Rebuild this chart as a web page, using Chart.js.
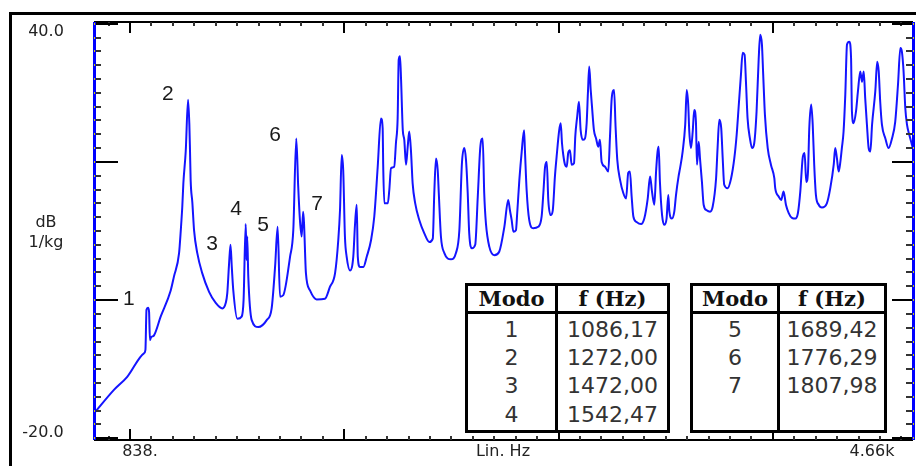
<!DOCTYPE html>
<html>
<head>
<meta charset="utf-8">
<script src="https://cdn.jsdelivr.net/npm/chart.js@4.4.0/dist/chart.umd.min.js"></script>
<style>
  html, body { margin: 0; padding: 0; background: #fff; }
  #wrap { position: relative; width: 916px; height: 466px; overflow: hidden; background: #fff; }
  #plot { position: absolute; left: 0; top: 0; }
  .modes {
    position: absolute; box-sizing: border-box; border: 3px solid #000; background: #fff;
    display: grid; grid-template-rows: 28px 30px 27.5px 27.5px 31px;
  }
  .modes div {
    box-sizing: border-box; display: flex; align-items: center; justify-content: center;
    font: 22px "DejaVu Sans", sans-serif; color: #333;
  }
  .modes div.head { font: bold 21px "DejaVu Serif", serif; color: #111; border-bottom: 3px solid #000; }
  .modes div.first { border-right: 3px solid #000; }
</style>
</head>
<body>
<div id="wrap">
  <canvas id="plot" width="916" height="466"></canvas>
  <div class="modes" id="tableA" style="left:465px; top:283px; width:205px; height:150px; grid-template-columns: 90px 1fr;"></div>
  <div class="modes" id="tableB" style="left:690px; top:283px; width:197px; height:150px; grid-template-columns: 87px 1fr;"></div>
</div>
<script>
// frequency response, Hz
const freqHz = [832, 925, 987, 1065, 1072, 1077, 1084, 1089, 1093, 1098, 1112, 1143, 1190, 1205, 1229, 1237, 1244, 1249, 1260, 1271,
  1277, 1280, 1283, 1291, 1299, 1314, 1337, 1369, 1400, 1431, 1447, 1454, 1462, 1469, 1475, 1482, 1501, 1521, 1530, 1540,
  1544, 1547, 1552, 1568, 1599, 1638, 1661, 1677, 1689, 1700, 1715, 1747, 1762, 1776, 1785, 1793, 1801, 1808, 1812, 1821,
  1840, 1871, 1910, 1933, 1957, 1972, 1980, 1988, 1995, 2003, 2011, 2027, 2042, 2050, 2058, 2063, 2073, 2089, 2105, 2125,
  2140, 2156, 2171, 2179, 2182, 2187, 2203, 2210, 2218, 2233, 2241, 2249, 2254, 2260, 2265, 2273, 2280, 2288, 2296, 2303,
  2311, 2319, 2331, 2350, 2373, 2397, 2413, 2420, 2428, 2436, 2441, 2451, 2467, 2498, 2521, 2537, 2549, 2560, 2568, 2576,
  2583, 2596, 2611, 2623, 2635, 2646, 2653, 2661, 2677, 2700, 2723, 2747, 2765, 2773, 2781, 2789, 2801, 2807, 2817, 2828,
  2839, 2843, 2851, 2863, 2882, 2905, 2921, 2929, 2937, 2945, 2952, 2963, 2973, 2983, 2991, 3003, 3010, 3016, 3022, 3030,
  3038, 3045, 3053, 3061, 3072, 3078, 3087, 3095, 3103, 3113, 3123, 3131, 3137, 3143, 3150, 3156, 3165, 3175, 3185, 3193,
  3201, 3217, 3232, 3240, 3248, 3259, 3266, 3274, 3287, 3302, 3315, 3325, 3333, 3341, 3349, 3364, 3385, 3400, 3416, 3427,
  3436, 3447, 3455, 3462, 3467, 3473, 3483, 3493, 3504, 3512, 3517, 3529, 3540, 3548, 3560, 3567, 3579, 3591, 3598, 3605,
  3610, 3618, 3626, 3633, 3641, 3646, 3654, 3660, 3669, 3677, 3691, 3707, 3719, 3735, 3742, 3750, 3759, 3766, 3773, 3789,
  3805, 3820, 3831, 3840, 3851, 3859, 3868, 3875, 3882, 3893, 3903, 3913, 3924, 3934, 3941, 3949, 3955, 3963, 3976, 3991,
  4007, 4011, 4027, 4039, 4050, 4061, 4074, 4089, 4105, 4117, 4128, 4139, 4148, 4156, 4164, 4170, 4179, 4186, 4193, 4201,
  4214, 4229, 4252, 4268, 4284, 4291, 4299, 4307, 4315, 4322, 4330, 4338, 4346, 4357, 4365, 4369, 4377, 4388, 4397, 4408,
  4416, 4424, 4431, 4439, 4447, 4455, 4463, 4478, 4487, 4494, 4501, 4509, 4525, 4540, 4556, 4571, 4584, 4595, 4602, 4610,
  4618, 4626, 4637, 4649, 4657];

// level, dB 1/kg
const levelDb = [-16.4, -13.0, -11.1, -7.7, -7.2, -1.4, -1.1, -1.7, -5.8, -5.4, -5.1, -2.4, 1.4, 3.4, 6.8, 10.1, 13.5, 16.9, 21.5, 29.0,
  25.4, 21.7, 17.4, 14.1, 10.1, 6.8, 3.9, 1.2, -0.4, -1.2, -0.4, 1.0, 5.1, 8.0, 4.8, 1.4, -2.7, -2.4, 0.0, 11.0,
  5.8, 9.2, 3.4, -2.9, -3.9, -2.9, -1.2, 4.8, 10.6, 0.5, 0.7, 6.3, 10.1, 23.4, 16.4, 11.6, 9.2, 12.8, 11.2, 3.9,
  1.4, 0.1, 0.2, 1.9, 3.9, 8.7, 13.0, 21.0, 18.8, 9.2, 6.3, 4.3, 6.3, 10.9, 13.8, 6.3, 4.8, 4.8, 6.3, 8.7,
  12.1, 19.3, 26.3, 24.9, 18.8, 14.0, 14.0, 15.9, 19.1, 19.3, 22.7, 26.3, 34.8, 35.3, 31.9, 24.6, 23.2, 19.6, 22.2, 24.4,
  21.7, 16.9, 14.0, 11.6, 9.7, 8.4, 8.9, 15.5, 20.5, 18.8, 15.5, 9.2, 6.8, 5.9, 6.8, 10.1, 19.8, 22.0, 20.3, 15.5,
  9.7, 7.5, 8.0, 15.0, 22.2, 23.4, 15.5, 11.1, 7.7, 6.5, 7.0, 10.6, 14.5, 13.0, 11.6, 9.9, 10.1, 12.6, 17.4, 21.5,
  24.6, 21.7, 15.9, 11.6, 10.4, 10.6, 12.1, 15.5, 19.3, 20.0, 14.5, 12.3, 13.0, 17.9, 20.8, 24.6, 25.6, 22.7, 21.0, 19.6,
  19.3, 21.3, 21.7, 19.6, 19.8, 23.7, 26.6, 28.7, 24.6, 23.2, 23.4, 25.6, 30.0, 33.8, 30.4, 28.0, 24.6, 23.4, 22.2, 23.2,
  20.0, 19.3, 18.6, 23.7, 29.2, 30.4, 25.1, 20.3, 17.4, 15.5, 14.7, 18.4, 18.6, 15.0, 12.1, 11.3, 11.0, 11.8, 14.7, 17.9,
  15.7, 13.8, 18.6, 21.5, 22.2, 17.1, 12.3, 10.9, 11.8, 15.2, 12.8, 11.8, 12.8, 15.2, 17.9, 19.1, 21.5, 25.4, 30.4, 28.3,
  24.4, 22.0, 24.4, 27.5, 25.8, 19.6, 22.9, 20.5, 17.1, 13.8, 13.0, 12.8, 13.5, 17.6, 22.0, 26.1, 24.9, 20.5, 16.7, 16.2,
  17.6, 20.5, 23.9, 27.8, 32.6, 35.8, 35.5, 31.2, 26.3, 23.4, 22.0, 22.7, 27.3, 35.0, 38.4, 37.0, 32.6, 26.8, 22.0, 19.6,
  17.6, 16.2, 15.0, 14.5, 15.7, 13.8, 12.6, 11.9, 11.8, 12.6, 15.7, 20.5, 21.3, 17.1, 18.6, 24.9, 28.3, 25.4, 19.6, 15.2,
  13.8, 13.4, 14.0, 16.2, 19.6, 22.0, 20.5, 18.6, 20.0, 22.0, 24.4, 29.7, 37.0, 37.4, 35.0, 27.3, 25.6, 27.3, 30.2, 33.1,
  31.6, 33.1, 29.2, 25.4, 22.0, 21.5, 25.4, 30.2, 34.5, 33.1, 28.7, 25.4, 23.4, 22.0, 23.4, 25.8, 31.2, 36.5, 36.0, 33.1,
  27.8, 25.4, 23.9, 22.5, 21.5];

// identified modes
const modeIds = [1, 2, 3, 4, 5, 6, 7];
const modeFreqs = [1086.17, 1272.00, 1472.00, 1542.47, 1689.42, 1776.29, 1807.98];
// where the mode numbers are written on the plot (Hz, dB)
const modeLabelHz = [995, 1177, 1383, 1495, 1621, 1677, 1873];
const modeLabelDb = [0.1, 29.8, 8.1, 13.2, 10.9, 23.9, 13.9];

// axis
const xRange = [832, 4654];
const yRange = [-20.25, 40.25];
const xTickText = ['838.', 'Lin. Hz', '4.66k'];
const yTickText = ['40.0', '-20.0'];
const yUnitText = ['dB', '1/kg'];

if (freqHz.length !== levelDb.length) throw new Error('length mismatch ' + freqHz.length + ' ' + levelDb.length);

// tables
function fillTable(el, ids, freqs, rows) {
  el.innerHTML = '<div class="head first">Modo</div><div class="head">f (Hz)</div>';
  for (let i = 0; i < rows; i++) {
    const id = i < ids.length ? ids[i] : '';
    const f = i < freqs.length ? freqs[i].toFixed(2).replace('.', ',') : '';
    el.innerHTML += `<div class="first">${id}</div><div>${f}</div>`;
  }
}
fillTable(document.getElementById('tableA'), modeIds.slice(0, 4), modeFreqs.slice(0, 4), 4);
fillTable(document.getElementById('tableB'), modeIds.slice(4), modeFreqs.slice(4), 4);

// axes, ticks and labels drawn like the analyzer screen
const analyzerAxes = {
  id: 'analyzerAxes',
  afterDatasetsDraw(chart) {
    const { ctx, chartArea: a, scales: { x, y } } = chart;
    ctx.save();
    ctx.fillStyle = '#000';
    // window frame
    ctx.fillRect(9, 12, 3, 460);
    ctx.fillRect(9, 12, 910, 3);
    // top and bottom axis lines
    ctx.fillRect(a.left, a.top - 1, a.right - a.left, 2);
    ctx.fillRect(a.left, a.bottom - 1, a.right - a.left, 2);

    // x ticks, every 100 Hz
    for (let f = 900; f <= 4600; f += 100) {
      const px = Math.round(x.getPixelForValue(f));
      const major = f % 1000 === 0;
      const len = major ? 11 : 4;
      ctx.fillStyle = major ? '#000' : '#333';
      ctx.fillRect(px - 1, a.top, 2, len);
      ctx.fillRect(px - 1, a.bottom - len, 2, len);
    }
    // y ticks, every 2 dB
    for (let v = -20; v <= 40; v += 2) {
      const py = Math.round(y.getPixelForValue(v));
      const major = v % 20 === 0;
      ctx.fillStyle = major ? '#000' : '#333';
      ctx.fillRect(a.left, py - 1, major ? 24 : 7, 2);
      ctx.fillRect(a.right - (major ? 21 : 7), py - 1, major ? 21 : 7, 2);
    }
    // blue side axes
    ctx.fillStyle = '#0000ff';
    ctx.fillRect(a.left - 1, a.top, 3, a.bottom - a.top);
    ctx.fillRect(a.right - 1, a.top, 3, a.bottom - a.top);
    ctx.fillStyle = '#d6d600';
    for (let v = -20; v <= 40; v += 2) {
      const py = Math.round(y.getPixelForValue(v));
      ctx.fillRect(a.left, py - 1, 1, 2);
      ctx.fillRect(a.right, py - 1, 1, 2);
    }

    // axis texts
    ctx.fillStyle = '#222';
    ctx.font = '16px "DejaVu Sans", sans-serif';
    ctx.textBaseline = 'middle';
    ctx.textAlign = 'center';
    ctx.fillText(yTickText[0], 46, 32);
    ctx.fillText(yTickText[1], 43, 433);
    ctx.fillText(yUnitText[0], 46, 223);
    ctx.fillText(yUnitText[1], 46, 243);
    ctx.fillText(xTickText[0], 140, 452);
    ctx.fillText(xTickText[1], 503, 452);
    ctx.fillText(xTickText[2], 872, 452);

    // mode numbers
    ctx.font = '21px "Liberation Sans", Arial, sans-serif';
    ctx.fillStyle = '#1a1a1a';
    modeIds.forEach((id, i) => {
      ctx.fillText(String(id), x.getPixelForValue(modeLabelHz[i]), y.getPixelForValue(modeLabelDb[i]));
    });
    ctx.restore();
  }
};

const chart = new Chart(document.getElementById('plot'), {
  type: 'line',
  data: {
    datasets: [{
      data: freqHz.map((f, i) => ({ x: f, y: levelDb[i] })),
      borderColor: '#1414ff',
      borderWidth: 2,
      pointRadius: 0,
      cubicInterpolationMode: 'monotone',
      fill: false
    }]
  },
  options: {
    responsive: false,
    animation: false,
    layout: { padding: { left: 94, right: 3, top: 22, bottom: 26 } },
    plugins: { legend: { display: false }, tooltip: { enabled: false } },
    scales: {
      x: { type: 'linear', min: xRange[0], max: xRange[1], display: false },
      y: { type: 'linear', min: yRange[0], max: yRange[1], display: false }
    }
  },
  plugins: [analyzerAxes]
});
</script>
</body>
</html>
